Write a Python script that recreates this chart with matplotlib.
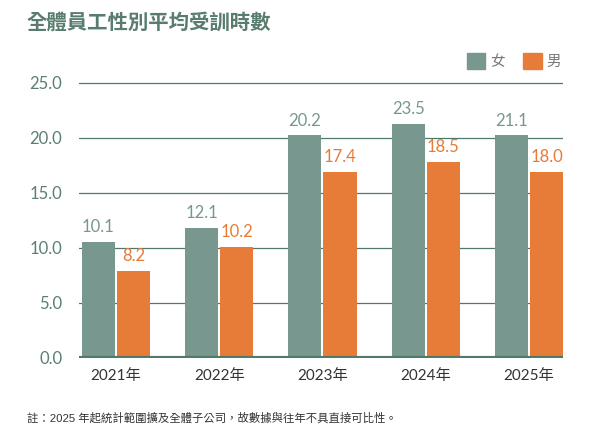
"""Average training hours by gender, 2021-2025."""

import matplotlib
matplotlib.use("Agg")
import matplotlib.pyplot as plt
import numpy as np
from matplotlib.patches import Patch

years = ["2021年", "2022年", "2023年", "2024年", "2025年"]
female_labels = ["10.1", "12.1", "20.2", "23.5", "21.1"]
male_labels = ["8.2", "10.2", "17.4", "18.5", "18.0"]
# bar heights as drawn in the original chart
female_bars = [10.5, 11.8, 20.2, 21.25, 20.2]
male_bars = [7.9, 10.05, 16.9, 17.8, 16.9]
y_ticks = [0, 5, 10, 15, 20, 25]

female_color = "#77978f"
male_color = "#e67c37"
grid_color = "#4f7a6a"
tick_color = "#5b7f72"

num_font = ["Lato", "Noto Sans CJK TC", "DejaVu Sans"]
cjk_font = ["Noto Sans CJK TC", "DejaVu Sans"]
plt.rcParams["font.family"] = num_font

fig = plt.figure(figsize=(6.05, 4.36), dpi=100)
ax = fig.add_axes([0.1306, 0.1796, 0.80, 0.8179 - 0.1796])

x = np.arange(len(years))
w = 0.32
off = 0.17
ax.bar(x - off, female_bars, w, color=female_color, zorder=2)
ax.bar(x + off, male_bars, w, color=male_color, zorder=2)

for xi, h, lab in zip(x, female_bars, female_labels):
    ax.annotate(lab, (xi - off, h), xytext=(0, 5), textcoords="offset points",
                ha="center", va="bottom", color=female_color, fontsize=12)
for xi, h, lab in zip(x, male_bars, male_labels):
    ax.annotate(lab, (xi + off, h), xytext=(0, 5), textcoords="offset points",
                ha="center", va="bottom", color=male_color, fontsize=12)

ax.set_xlim(-0.358, 4.33)
ax.set_ylim(0, 25.3)
ax.set_yticks(y_ticks)
ax.set_yticklabels([f"{v:.1f}" for v in y_ticks])
ax.set_xticks(x)
ax.set_xticklabels(years)
ax.tick_params(axis="y", length=0, pad=12, labelsize=12, labelcolor=tick_color)
ax.tick_params(axis="x", length=0, pad=8, labelsize=11, labelcolor="#333333")

for v in y_ticks[1:]:
    ax.axhline(v, color=grid_color, lw=0.9, zorder=1)
ax.axhline(0, color=grid_color, lw=3, zorder=3)
for s in ax.spines.values():
    s.set_visible(False)

handles = [Patch(color=female_color, label="女"), Patch(color=male_color, label="男")]
leg = fig.legend(handles=handles, loc="upper right", bbox_to_anchor=(0.928, 0.878),
                 ncol=2, frameon=False, fontsize=10.5, handlelength=1.25,
                 handleheight=1.25, handletextpad=0.35, columnspacing=1.3,
                 borderpad=0, borderaxespad=0, prop={"family": cjk_font, "size": 10.5})
for t in leg.get_texts():
    t.set_color("#777777")

fig.text(27 / 605, 1 - 22 / 436, "全體員工性別平均受訓時數", family=cjk_font,
         fontsize=14.7, fontweight="bold", color="#587c6e", va="center", ha="left")
fig.text(27 / 605, 1 - 418 / 436, "註：2025 年起統計範圍擴及全體子公司，故數據與往年不具直接可比性。",
         family=["Liberation Sans", "Noto Sans CJK TC"], fontsize=8.2, color="#333333",
         va="center", ha="left")

fig.savefig("out.png", dpi=100)
